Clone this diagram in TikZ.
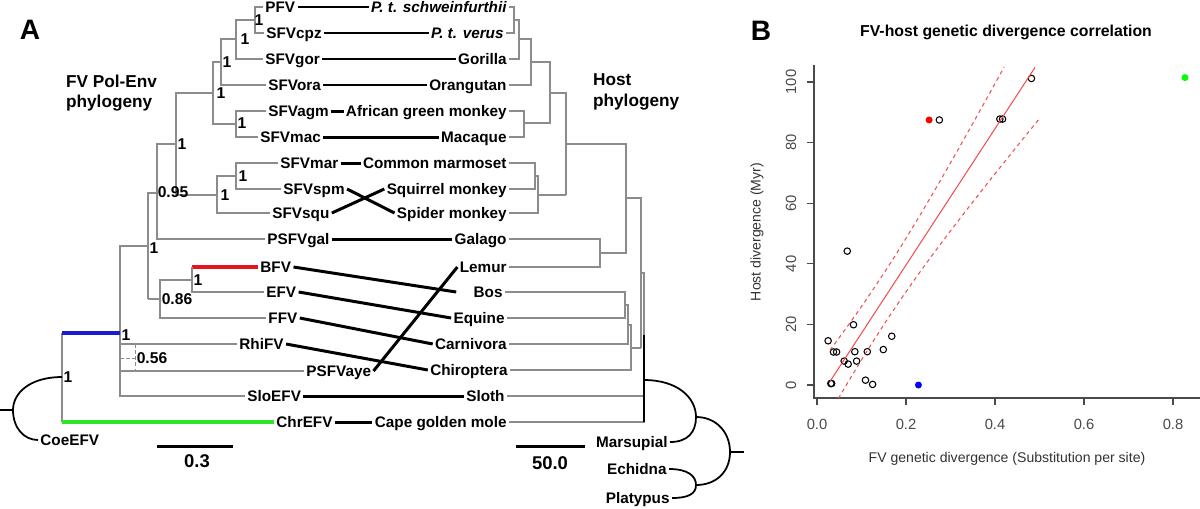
\documentclass[tikz,border=0pt]{standalone}
\usepackage{fontspec}
\setmainfont{Liberation Sans}
\usepackage{xcolor}
\definecolor{brgray}{HTML}{8C8C8C}
\definecolor{bfvred}{HTML}{E8141B}
\definecolor{basalblue}{HTML}{1A1AD0}
\definecolor{chrgreen}{HTML}{2BE62B}
\definecolor{fitred}{HTML}{EE5050}
\definecolor{axgray}{HTML}{4A4A4A}

\begin{document}
\begin{tikzpicture}[x=0.02cm, y=-0.02cm,
  every node/.style={inner sep=1pt},
  leaf/.style={font=\bfseries\fontsize{8.7}{10}\selectfont, inner sep=1.2pt,
               text height=6.3pt, text depth=0pt},
  fv/.style={leaf, anchor=west},
  host/.style={leaf, anchor=east},
  supp/.style={font=\bfseries\fontsize{8.9}{10}\selectfont, inner sep=0pt},
  ttl/.style={font=\bfseries\fontsize{9.8}{11.6}\selectfont, align=left, anchor=west},
  panel/.style={font=\bfseries\fontsize{16}{18}\selectfont},
  scl/.style={font=\bfseries\fontsize{10.5}{12}\selectfont},
  br/.style={draw=brgray, line width=0.6pt},
  colbr/.style={line width=2pt},
  assoc/.style={line width=1.7pt},
  rootarc/.style={line width=1pt},
  axline/.style={draw=axgray, line width=0.7pt},
  ticklab/.style={font=\fontsize{8.4}{9}\selectfont, text=axgray},
  axlab/.style={font=\fontsize{8}{9}\selectfont, text=black!80},
  btitle/.style={font=\bfseries\fontsize{9}{10}\selectfont},
  opendot/.style={line width=0.6pt},
  regline/.style={draw=fitred, line width=0.6pt}
]
\useasboundingbox (0,0) rectangle (1200,508);

%% panel A titles
\node[panel] (pa) at (30,30) {A};
\node[ttl] (fvt) at (64,93) {FV Pol-Env\\phylogeny};
\node[ttl] (hostt) at (591,92) {Host\\phylogeny};

%% FV leaves
\node[fv] (pfv) at (263,7)   {PFV};
\node[fv] (cpz) at (264,33)  {SFVcpz};
\node[fv] (gor) at (263,59)  {SFVgor};
\node[fv] (ora) at (266,85)  {SFVora};
\node[fv] (agm) at (266,111) {SFVagm};
\node[fv] (mac) at (258,137) {SFVmac};
\node[fv] (mar) at (278,163) {SFVmar};
\node[fv] (spm) at (281,189) {SFVspm};
\node[fv] (squ) at (270,213) {SFVsqu};
\node[fv] (gal) at (265,239) {PSFVgal};
\node[fv] (bfv) at (258,267) {BFV};
\node[fv] (efv) at (264,292) {EFV};
\node[fv] (ffv) at (266,318) {FFV};
\node[fv] (rhi) at (237,344) {RhiFV};
\node[fv] (aye) at (304,371) {PSFVaye};
\node[fv] (slo) at (245,396) {SloEFV};
\node[fv] (chr) at (274,422) {ChrEFV};
\node[fv] (coe) at (38,440)  {CoeEFV};

%% host leaves
\node[host] (schw) at (509,7)   {\itshape P. t. schweinfurthii};
\node[host] (ver)  at (506,33)  {\itshape P. t. verus};
\node[host] (gorh) at (509,59)  {Gorilla};
\node[host] (orah) at (509,85)  {Orangutan};
\node[host] (agmh) at (509,111) {African green monkey};
\node[host] (mach) at (509,137) {Macaque};
\node[host] (marh) at (509,163) {Common marmoset};
\node[host] (sqh)  at (509,189) {Squirrel monkey};
\node[host] (sph)  at (509,213) {Spider monkey};
\node[host] (galh) at (509,239) {Galago};
\node[host] (lem)  at (509,267) {Lemur};
\node[host] (bos)  at (505,292) {Bos};
\node[host] (equ)  at (507,318) {Equine};
\node[host] (car)  at (509,344) {Carnivora};
\node[host] (chi)  at (510,370) {Chiroptera};
\node[host] (sloh) at (507,396) {Sloth};
\node[host] (mole) at (509,422) {Cape golden mole};
\node[host] (mars) at (670,442) {Marsupial};
\node[host] (ech)  at (669,469) {Echidna};
\node[host] (pla)  at (672,498) {Platypus};

%% FV tree
\draw[br] (pfv.west) -| (255,20) |- (cpz.west);
\draw[br] (255,20) -- (236,20) |- (gor.west);
\draw[br] (236,39) -- (221,39) |- (ora.west);
\draw[br] (221,62) -- (213,62) |- (236,124);
\draw[br] (agm.west) -| (236,124) |- (mac.west);
\draw[br] (213,93) -- (176,93) -- (176,195);
\draw[br] (mar.west) -| (236,176) |- (spm.west);
\draw[br] (236,176) -- (217,176) |- (squ.west);
\draw[br] (217,195) -- (176,195);
\draw[br] (176,144) -- (157,144) |- (gal.west);
\draw[br] (157,193) -- (148,193) -- (148,299);
\draw[colbr, bfvred] (192,267) -- (bfv.west);
\draw[br] (192,267) |- (efv.west);
\draw[br] (192,280) -- (160,280) |- (ffv.west);
\draw[br] (160,299) -- (148,299);
\draw[br] (148,246) -- (120,246) |- (slo.west);
\draw[br] (120,344) -- (rhi.west);
\draw[br] (120,371) -- (aye.west);
\draw[br, line width=0.4pt, dash pattern=on 2pt off 1.5pt] (120,358) -- (135,358)
  (135,344) -- (135,371);
\draw[br] (62,333) -- (62,422);
\draw[colbr, basalblue] (62,333) -- (120,333);
\draw[colbr, chrgreen] (62,422) -- (chr.west);
\draw[rootarc] (62,377) .. controls (30,377) and (13,393) .. (13,410)
  .. controls (13,428) and (24,440) .. (coe.west);
\draw[rootarc] (0,410) -- (13,410);

%% support values
\foreach \px/\py/\s in {259/20/1, 245/39/1, 227/62/1, 221/93/1, 242/123/1,
    182/144/1, 243/176/1, 225/195/1, 173/192/0.95, 154/248/1, 198/280/1,
    177/299/0.86, 126/335/1, 152/358/0.56, 68/377/1}
  \node[supp] (s\px) at (\px,\py) {\s};

%% host tree
\draw[br] (schw.east) -| (514,20) |- (ver.east);
\draw[br] (514,20) -- (519,20) |- (gorh.east);
\draw[br] (519,39) -- (531,39) |- (orah.east);
\draw[br] (531,62) -- (550,62) |- (524,123);
\draw[br] (agmh.east) -| (524,123) |- (mach.east);
\draw[br] (550,93) -- (566,93) -- (566,195);
\draw[br] (marh.east) -| (535,176) |- (sqh.east);
\draw[br] (535,176) -- (538,176) |- (sph.east);
\draw[br] (538,195) -- (566,195);
\draw[br] (566,144) -- (626,144) |- (600,253);
\draw[br] (galh.east) -| (600,253) |- (lem.east);
\draw[br] (626,198) -- (641,198) -- (641,348);
\draw[br] (bos.east) -| (625,305) |- (equ.east);
\draw[br] (625,305) -- (628,305) |- (car.east);
\draw[br] (628,325) -- (631,325) |- (chi.east);
\draw[br] (631,348) -- (641,348);
\draw[br] (641,273) -- (644,273) |- (mole.east);
\draw[br] (644,396) -- (sloh.east);
\draw[rootarc] (644,335) -- (644,422);
\draw[rootarc] (644,380) .. controls (678,380) and (696,398) .. (696,417)
  .. controls (696,432) and (688,442) .. (mars.east);
\draw[rootarc] (696,417) .. controls (716,417) and (730,432) .. (730,452)
  .. controls (730,472) and (716,485) .. (696,485);
\draw[rootarc] (ech.east) .. controls (688,469) and (696,476) .. (696,485)
  .. controls (696,494) and (688,498) .. (pla.east);
\draw[rootarc] (730,452) -- (744,452);

%% FV-host links
\foreach \a/\b in {pfv/schw, cpz/ver, gor/gorh, ora/orah, agm/agmh, mac/mach,
    mar/marh, spm/sph, squ/sqh, gal/galh, efv/equ, ffv/car, rhi/chi,
    aye/lem, slo/sloh, chr/mole}
  \draw[assoc] (\a.east) -- (\b.west);
\draw[assoc] (bfv.east) -- ([xshift=-0.3cm]bos.west);

%% scale bars
\coordinate (sa0) at (157,446); \coordinate (sa1) at (233,446);
\coordinate (sb0) at (516,446); \coordinate (sb1) at (585,446);
\draw[assoc] (sa0) -- (sa1);
\draw[assoc] (sb0) -- (sb1);
\node[scl] (sal) at (197,461) {0.3};
\node[scl] (sbl) at (550,463) {50.0};

%% panel B
\node[panel] (pb) at (761,31) {B};
\node[btitle] (bt) at (1006,32) {FV-host genetic divergence correlation};
\draw[axline] (814,65) -- (814,398) -- (1200,398);
\foreach \v [count=\i from 0] in {0.0,0.2,0.4,0.6,0.8} {
  \draw[axline] (817+89*\i,398) -- (817+89*\i,405);
  \node[ticklab] (tx\i) at (817+89*\i,424) {\v};
}
\foreach \v in {0,20,...,100} {
  \draw[axline] (814,385-3.03*\v) -- (807,385-3.03*\v);
  \node[ticklab, rotate=90] (ty\v) at (791,385-3.03*\v) {\v};
}
\node[axlab] (xl) at (1007,459) {FV genetic divergence (Substitution per site)};
\node[axlab, rotate=90] (yl) at (757,232) {Host divergence (Myr)};

\begin{scope}[shift={(817,385)}, x=8.9cm, y=0.0606cm]
  % observations
  \foreach \a/\b in {0.275/87.5, 0.068/44.2, 0.082/19.9, 0.025/14.6, 0.168/16.1,
      0.037/10.9, 0.044/10.9, 0.085/11, 0.113/11, 0.149/11.7, 0.061/7.9,
      0.070/6.9, 0.089/7.9, 0.031/0.5, 0.033/0.5, 0.109/1.6, 0.125/0.2,
      0.482/101.2, 0.411/87.8, 0.417/87.8}
    \draw[opendot] (\a,\b) circle[radius=0.065cm];
  \fill[red] (0.252,87.5) circle[radius=0.07cm];
  \fill[blue] (0.228,0) circle[radius=0.07cm];
  \fill[green] (0.827,101.5) circle[radius=0.07cm];
  % fit and 95% band
  \draw[regline] (0.029,{225*0.029-5.4}) -- (0.49,{225*0.49-5.4});
  \draw[regline, dash pattern=on 2.2pt off 2pt, domain=0.029:0.421, samples=40]
    plot (\x,{225*\x-5.4+sqrt(72+2400*(\x-0.15)^2)});
  \draw[regline, dash pattern=on 2.2pt off 2pt, domain=0.048:0.5, samples=40]
    plot (\x,{225*\x-5.4-sqrt(72+2400*(\x-0.15)^2)});
\end{scope}

\end{tikzpicture}
\end{document}
